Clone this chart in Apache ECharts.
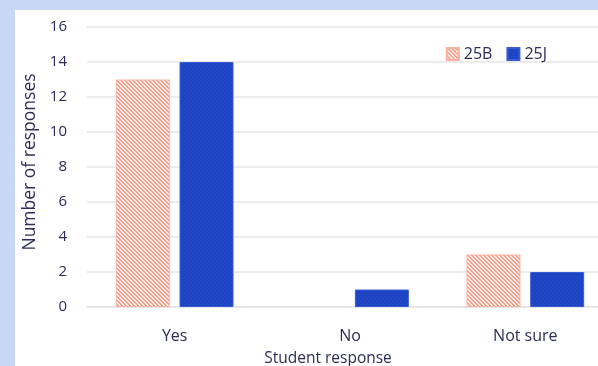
<!DOCTYPE html>
<html><head><meta charset="utf-8">
<script src="https://cdn.jsdelivr.net/npm/echarts@6/dist/echarts.min.js"></script>
<style>
html,body{margin:0;padding:0;background:#c9d7f6;overflow:hidden;width:598px;height:366px;}
#panel{position:absolute;left:15px;top:10px;width:600px;height:360px;background:#fff;}
#chart{position:absolute;left:0;top:0;width:620px;height:366px;}
</style></head>
<body>
<div id="panel"></div>
<div id="chart"></div>
<script>
const categories = ['Yes', 'No', 'Not sure'];
const seriesNames = ['25B', '25J'];
const values25B = [13, 0, 3];
const values25J = [14, 1, 2];
const yTicks = [0, 2, 4, 6, 8, 10, 12, 14, 16];

function stripePattern() {
  const c = document.createElement('canvas');
  c.width = 4; c.height = 4;
  const g = c.getContext('2d');
  g.fillStyle = '#fff1ed'; g.fillRect(0, 0, 4, 4);
  g.fillStyle = '#f89c88';
  for (let i = 0; i < 4; i++) { g.fillRect(i, i, 1, 1); g.fillRect((i + 1) % 4, i, 1, 1); }
  return c;
}
function dotPattern() {
  const c = document.createElement('canvas');
  c.width = 4; c.height = 4;
  const g = c.getContext('2d');
  g.fillStyle = '#1c43c4'; g.fillRect(0, 0, 4, 4);
  g.fillStyle = '#2f55d0'; g.fillRect(0, 0, 1, 1); g.fillRect(2, 2, 1, 1);
  return c;
}
const nz = v => (v === 0 ? null : v);

const textColor = '#2b2c5a';
const font = 'Open Sans';
const chart = echarts.init(document.getElementById('chart'), null, {renderer: 'canvas'});
chart.setOption({
  backgroundColor: 'transparent',
  animation: false,
  legend: {
    data: seriesNames,
    right: 68, top: 41,
    itemWidth: 12, itemHeight: 12, itemGap: 14,
    icon: 'rect',
    textStyle: {color: textColor, fontSize: 16, fontFamily: font}
  },
  grid: {left: 87, top: 27, width: 526, bottom: 59, outerBoundsMode: 'none', containLabel: false},
  xAxis: {
    type: 'category',
    data: categories,
    name: 'Student response',
    nameLocation: 'middle',
    nameGap: 44,
    nameTextStyle: {color: textColor, fontSize: 15.5, fontFamily: font, padding: [0, 44, 0, 0]},
    axisLine: {lineStyle: {color: '#e6e6e6', width: 2}},
    axisTick: {show: false},
    axisLabel: {color: textColor, fontSize: 16, fontFamily: font, margin: 21}
  },
  yAxis: {
    type: 'value',
    min: yTicks[0], max: yTicks[yTicks.length - 1], interval: 2,
    name: 'Number of responses',
    nameLocation: 'middle',
    nameGap: 48,
    nameTextStyle: {color: textColor, fontSize: 17.5, fontFamily: font, padding: [0, 0, 0, 10]},
    axisLine: {show: false},
    axisTick: {show: false},
    axisLabel: {color: textColor, fontSize: 15, fontFamily: font, margin: 20},
    splitLine: {lineStyle: {color: '#ebebeb', width: 2}}
  },
  series: [
    {
      name: seriesNames[0], type: 'bar', data: values25B.map(nz),
      barWidth: 54, barGap: '18%',
      itemStyle: {color: {image: stripePattern(), repeat: 'repeat'}, borderColor: '#fbb0a2', borderWidth: 1}
    },
    {
      name: seriesNames[1], type: 'bar', data: values25J.map(nz),
      barWidth: 54,
      itemStyle: {color: {image: dotPattern(), repeat: 'repeat'}, borderColor: '#3a5cd2', borderWidth: 1}
    }
  ]
});
</script>
</body></html>
